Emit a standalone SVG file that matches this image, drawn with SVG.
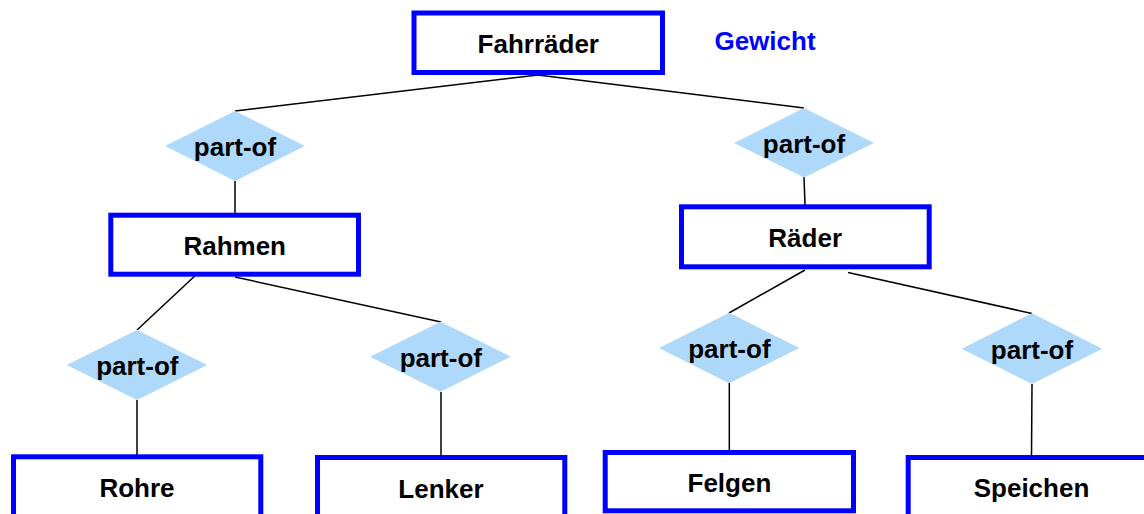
<svg xmlns="http://www.w3.org/2000/svg" width="1144" height="514" viewBox="0 0 1144 514">
<style>
  .box { fill: #FFFFFF; stroke: #0000FF; stroke-width: 5; }
  .rel { fill: #AFD9FB; stroke: none; }
  .lbl { font-family: "Liberation Sans", Arial, sans-serif; font-weight: bold; font-size: 26px; fill: #000000; text-anchor: middle; }
  .attr { font-family: "Liberation Sans", Arial, sans-serif; font-weight: bold; font-size: 26px; fill: #0000FF; text-anchor: middle; }
  .edge { stroke: #000000; stroke-width: 1.5; fill: none; }
</style>
<rect x="0" y="0" width="1144" height="514" fill="#FFFFFF"/>
<g id="connectors">
  <line class="edge" x1="538" y1="75" x2="235" y2="111"/>
  <line class="edge" x1="538" y1="75" x2="804" y2="108"/>
  <line class="edge" x1="235" y1="181" x2="235" y2="213"/>
  <line class="edge" x1="804" y1="177" x2="805" y2="205"/>
  <line class="edge" x1="198" y1="273" x2="137" y2="330"/>
  <line class="edge" x1="235" y1="277" x2="441" y2="322"/>
  <line class="edge" x1="805" y1="270" x2="729" y2="313"/>
  <line class="edge" x1="848" y1="272.5" x2="1032" y2="313.5"/>
  <line class="edge" x1="137" y1="400" x2="137" y2="455"/>
  <line class="edge" x1="441" y1="392" x2="441" y2="456"/>
  <line class="edge" x1="729.3" y1="383" x2="729.3" y2="451"/>
  <line class="edge" x1="1032" y1="384" x2="1031.5" y2="456"/>
</g>
<g id="fahrraeder">
  <rect class="box" x="414" y="13" width="248.5" height="59.5"/>
  <text class="lbl" x="538.3" y="53.3">Fahrräder</text>
</g>
<g id="gewicht">
  <text class="attr" x="765" y="50">Gewicht</text>
</g>
<g id="partof1">
  <polygon class="rel" points="235,111 305,146 235,181 165,146"/>
  <text class="lbl" x="235" y="155.5">part-of</text>
</g>
<g id="partof2">
  <polygon class="rel" points="804,108 874,143 804,177.5 734,143"/>
  <text class="lbl" x="804" y="153.3">part-of</text>
</g>
<g id="rahmen">
  <rect class="box" x="110.8" y="215.2" width="247.7" height="59"/>
  <text class="lbl" x="234.7" y="255">Rahmen</text>
</g>
<g id="raeder">
  <rect class="box" x="681.5" y="206.8" width="247.7" height="60"/>
  <text class="lbl" x="805.2" y="246.7">Räder</text>
</g>
<g id="partof3">
  <polygon class="rel" points="137,330 207.3,365 137,400 66.7,365"/>
  <text class="lbl" x="137.3" y="375">part-of</text>
</g>
<g id="partof4">
  <polygon class="rel" points="440.5,321.7 510.7,356.7 440.5,391.7 370,356.7"/>
  <text class="lbl" x="440.8" y="366.7">part-of</text>
</g>
<g id="partof5">
  <polygon class="rel" points="729.2,312.7 799.3,348 729.2,383.3 659,348"/>
  <text class="lbl" x="729.4" y="358.3">part-of</text>
</g>
<g id="partof6">
  <polygon class="rel" points="1032,313.3 1102.3,348.7 1032,384 961.7,348.7"/>
  <text class="lbl" x="1032" y="359">part-of</text>
</g>
<g id="rohre">
  <rect class="box" x="13.5" y="456.8" width="247.3" height="70"/>
  <text class="lbl" x="137" y="496.7">Rohre</text>
</g>
<g id="lenker">
  <rect class="box" x="317.5" y="457.5" width="247.3" height="70"/>
  <text class="lbl" x="441" y="498.3">Lenker</text>
</g>
<g id="felgen">
  <rect class="box" x="605.2" y="452.5" width="248.3" height="58.3"/>
  <text class="lbl" x="729.4" y="491.7">Felgen</text>
</g>
<g id="speichen">
  <rect class="box" x="908.2" y="457.5" width="248" height="70"/>
  <text class="lbl" x="1031.5" y="497.3">Speichen</text>
</g>
</svg>
